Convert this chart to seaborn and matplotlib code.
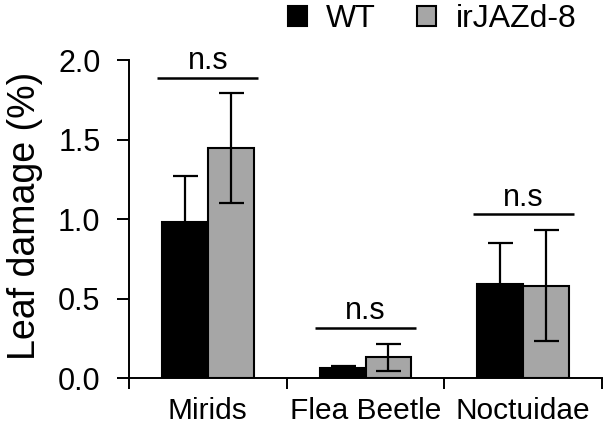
import numpy as np
import pandas as pd
import seaborn as sns
import matplotlib.pyplot as plt
from matplotlib.ticker import FixedLocator, FormatStrFormatter

# DATA
pests = ['Mirids', 'Flea Beetle', 'Noctuidae']
genotypes = ['WT', 'irJAZd-8']
wt_mean = [0.98, 0.06, 0.59]
wt_err = [0.29, 0.015, 0.26]
ir_mean = [1.445, 0.13, 0.58]
ir_err = [0.345, 0.085, 0.35]
sig = ['n.s', 'n.s', 'n.s']

df = pd.DataFrame({
    'pest': pests * 2,
    'genotype': [genotypes[0]] * 3 + [genotypes[1]] * 3,
    'damage': wt_mean + ir_mean,
    'err': wt_err + ir_err,
})

sns.set_style('white')
plt.rcParams['font.family'] = ['Liberation Sans', 'DejaVu Sans']
for k in ['text.color', 'axes.labelcolor', 'xtick.color', 'ytick.color']:
    plt.rcParams[k] = 'black'

fig = plt.figure(figsize=(6.1, 4.33), dpi=100)
ax = fig.add_axes([0.2115, 0.127, 0.7755, 0.7344])

sns.barplot(data=df, x='pest', y='damage', hue='genotype', order=pests,
            hue_order=genotypes, palette=['#000000', '#A6A6A6'],
            width=0.58, errorbar=None, edgecolor='black', linewidth=1.5,
            ax=ax)

# error bars drawn on the bar centres
for cont, g in zip(ax.containers, genotypes):
    sub = df[df.genotype == g].set_index('pest').loc[pests]
    xs = [p.get_x() + p.get_width() / 2 for p in cont.patches]
    ax.errorbar(xs, sub['damage'], yerr=sub['err'], fmt='none',
                ecolor='black', elinewidth=1.6, capsize=9, capthick=1.6,
                zorder=5)

# significance lines
for i, s in enumerate(sig):
    top = max(wt_mean[i] + wt_err[i], ir_mean[i] + ir_err[i]) + 0.1
    ax.plot([i - 0.32, i + 0.32], [top, top], color='black', lw=1.8,
            solid_capstyle='butt')
    ax.text(i, top + 0.01, s, ha='center', va='bottom', fontsize=22)

ax.set_xlim(-0.5, 2.5)
ax.set_ylim(0, 2.0)
ax.set_yticks(np.arange(0, 2.01, 0.5))
ax.yaxis.set_major_formatter(FormatStrFormatter('%.1f'))
ax.xaxis.set_minor_locator(FixedLocator([-0.5, 0.5, 1.5, 2.5]))
ax.tick_params(axis='x', which='major', length=0, labelsize=21.5, pad=14)
ax.tick_params(axis='x', which='minor', length=8, width=1.4, direction='out',
               bottom=True)
ax.tick_params(axis='y', length=8.5, width=1.4, direction='out', left=True,
               labelsize=22, pad=12)
ax.set_xlabel('')
ax.set_ylabel('Leaf damage (%)', fontsize=27)
ax.yaxis.set_label_coords(-0.182, 0.51)

for side in ['top', 'right']:
    ax.spines[side].set_visible(False)
for side in ['left', 'bottom']:
    ax.spines[side].set_color('black')
    ax.spines[side].set_linewidth(1.4)

leg = ax.legend(loc='center', bbox_to_anchor=(432 / 610, 1 - 19 / 433),
                bbox_transform=fig.transFigure, ncol=2, frameon=False,
                fontsize=23, handlelength=0.6, handleheight=0.6,
                handletextpad=0.6, columnspacing=1.3, borderaxespad=0,
                borderpad=0)

fig.savefig('out.png', dpi=100)
